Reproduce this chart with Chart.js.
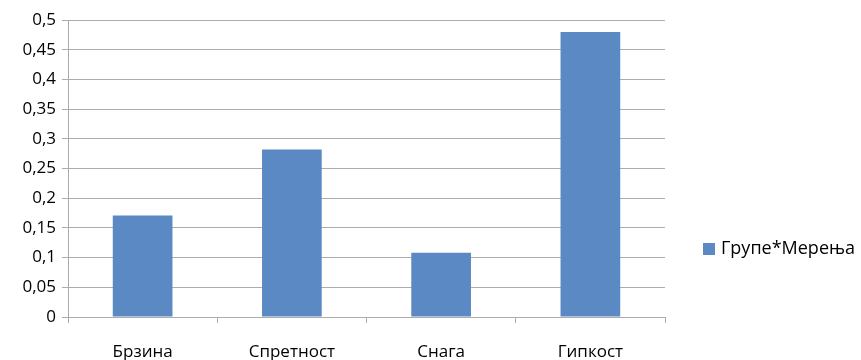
<!DOCTYPE html>
<html>
<head>
<meta charset="utf-8">
<script src="https://cdn.jsdelivr.net/npm/chart.js@4/dist/chart.umd.min.js"></script>
<style>
  html, body { margin: 0; padding: 0; background: #fff; }
  #wrap { width: 861px; height: 360px; position: relative; }
</style>
</head>
<body>
<div id="wrap"><canvas id="c" width="861" height="360"></canvas></div>
<script>
const categories = ['Брзина', 'Спретност', 'Снага', 'Гипкост'];
const seriesName = 'Групе*Мерења';
const seriesValues = [0.171, 0.282, 0.108, 0.480];
const yMin = 0, yMax = 0.5, yStep = 0.05;

const FONT = '"Open Sans", "DejaVu Sans", sans-serif';
const BAR = '#5b89c3';
const GRID = '#acacac';

// Legend entry drawn at the right-hand side, beside the plot
const sideLegend = {
  id: 'sideLegend',
  afterDraw(chart) {
    const ctx = chart.ctx;
    const ds = chart.data.datasets[0];
    ctx.save();
    ctx.fillStyle = ds.backgroundColor;
    ctx.fillRect(703, 243, 12, 12);
    ctx.fillStyle = '#000';
    ctx.font = '18px ' + FONT;
    ctx.textBaseline = 'middle';
    ctx.textAlign = 'left';
    ctx.fillText(ds.label, 721, 249);
    ctx.restore();
  }
};

new Chart(document.getElementById('c'), {
  type: 'bar',
  data: {
    labels: categories,
    datasets: [{
      label: seriesName,
      data: seriesValues,
      backgroundColor: BAR,
      borderWidth: 0,
      barPercentage: 0.4,
      categoryPercentage: 1.0
    }]
  },
  options: {
    responsive: false,
    animation: false,
    layout: { padding: { top: 20, right: 196, left: 0, bottom: 0 } },
    plugins: { legend: { display: false }, tooltip: { enabled: false } },
    scales: {
      x: {
        offset: true,
        grid: { display: true, drawOnChartArea: false, drawTicks: true, tickLength: 6, color: GRID, offset: true },
        border: { display: true, color: GRID },
        ticks: { color: '#000', font: { family: FONT, size: 17 }, padding: 19, maxRotation: 0 },
        afterFit(s) { s.height = 43; }
      },
      y: {
        min: yMin, max: yMax,
        grid: { color: GRID, tickLength: 6 },
        border: { display: true, color: GRID },
        ticks: {
          stepSize: yStep,
          color: '#000',
          font: { family: FONT, size: 17 },
          padding: 6,
          callback: v => String(Math.round(v * 100) / 100).replace('.', ',')
        },
        afterFit(s) { s.width = 68; }
      }
    }
  },
  plugins: [sideLegend]
});
</script>
</body>
</html>
